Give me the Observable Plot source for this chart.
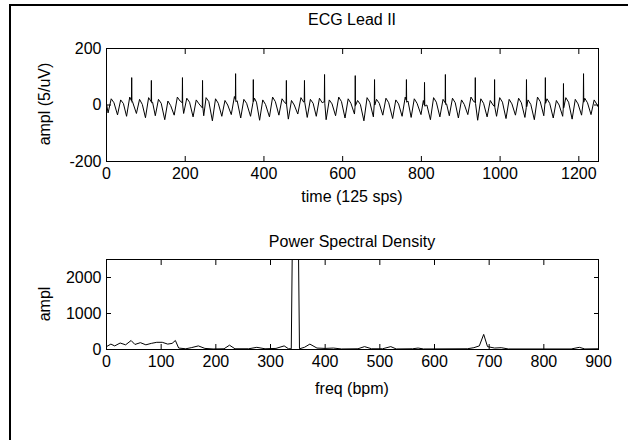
<!DOCTYPE html>
<html><head><meta charset="utf-8">
<script src="https://cdn.jsdelivr.net/npm/d3@7"></script>
<script src="https://cdn.jsdelivr.net/npm/@observablehq/plot@0.6"></script>
<style>
html,body{margin:0;padding:0;background:#fff;width:628px;height:440px;overflow:hidden;}
body{position:relative;font-family:"Liberation Sans",Arial,sans-serif;}
#frame{position:absolute;left:9px;top:4px;width:660px;height:480px;border:2px solid #000;box-sizing:border-box;}
.lbl{position:absolute;font-size:16px;color:#000;white-space:nowrap;transform:translate(-50%,-50%);line-height:1;}
.rot{transform:translate(-50%,-50%) rotate(-90deg);}
#p1,#p2{position:absolute;left:0;}
</style></head><body>
<div id="frame"></div>
<div id="p1" style="top:0"></div>
<div id="p2" style="top:200px"></div>
<div class="lbl" style="left:352px;top:20px">ECG Lead II</div>
<div class="lbl" style="left:352px;top:197px">time (125 sps)</div>
<div class="lbl" style="left:352px;top:242px">Power Spectral Density</div>
<div class="lbl" style="left:352px;top:389px">freq (bpm)</div>
<div class="lbl rot" style="left:45px;top:104px">ampl (5/uV)</div>
<div class="lbl rot" style="left:45px;top:304px">ampl</div>
<script>
// ECG waveform vertices (sample index, amplitude)
const ecgT = [0,4,12,19,28,36,43,51,59,66,76,84,91,99,107,117,124,132,139,148,156,163,172,180,187,196,204,211,220,228,235,247,253,260,269,277,284,293,301,308,317,325,332,341,349,356,366,376,381,389,397,404,414,422,429,438,446,453,462,470,477,486,494,501,510,518,525,533,541,548,558,566,573,582,590,597,606,614,621,630,638,645,654,662,669,678,686,693,702,710,717,727,735,742,751,759,766,774,782,789,799,805,814,823,831,838,847,855,864,871,879,886,894,902,909,918,926,933,943,951,958,967,975,982,991,999,1006,1015,1023,1030,1039,1047,1054,1063,1071,1078,1087,1095,1102,1111,1119,1126,1135,1143,1150,1159,1167,1174,1183,1191,1198,1207,1215,1222,1231,1239,1246,1249];
const ecgV = [5,-28,22,8,-35,18,5,-40,28,12,-30,20,2,-45,26,10,-38,20,6,-52,14,-2,-36,28,14,-30,24,10,-42,18,4,-38,26,12,-56,22,6,-40,16,0,-34,30,15,-46,20,6,-40,24,10,-54,18,2,-42,28,12,-36,22,8,-50,16,0,-32,26,10,-44,20,6,-40,24,8,-52,18,4,-38,28,12,-46,22,6,-32,16,2,-56,26,10,-42,20,6,-36,24,8,-48,18,4,-40,28,14,-44,22,6,-34,16,0,-52,26,10,-42,20,4,-38,24,8,-46,18,2,-34,28,12,-54,22,6,-42,16,0,-40,26,10,-48,20,4,-36,24,8,-44,18,2,-52,28,12,-38,22,6,-46,16,0,-40,26,10,-50,20,4,-36,24,8,-34,18,2,-6];
// narrow spikes (sample index, peak amplitude, base before, base after)
const spikeT = [64,114,193,244,328,373,457,503,554,632,681,762,808,861,937,986,1067,1115,1161,1212];
const spikeH = [97,87,97,87,111,90,87,87,108,104,90,90,80,108,97,90,90,97,76,111];
const spikePre = [15,12,8,-10,20,10,5,15,12,-8,5,18,0,8,10,-5,-10,12,-15,14];
const spikePost = [10,8,0,-5,12,12,0,10,6,-2,0,10,-4,2,5,-8,-6,6,-10,10];
// power spectral density vertices (bpm, ampl)
const psdF = [0,8,15,25,35,45,52,62,72,82,92,102,112,120,126,132,145,155,168,180,195,215,225,235,260,275,290,310,325,333,338,342,349,353,362,372,385,400,415,430,460,472,485,505,520,530,560,570,580,660,672,682,690,697,710,722,735,850,865,875,900];
const psdA = [80,150,100,180,130,250,140,190,130,170,200,200,150,170,250,40,20,50,100,30,15,20,120,20,20,60,20,30,100,20,20,6000,6000,20,60,150,40,30,40,15,20,80,20,20,80,15,20,40,15,20,50,100,420,80,40,50,15,15,60,15,20];
// axis ticks
const ecgXTicks = [0,200,400,600,800,1000,1200];
const ecgYTicks = [-200,0,200];
const psdXTicks = [0,100,200,300,400,500,600,700,800,900];
const psdYTicks = [0,1000,2000];

const ecg = ecgT.map((t, i) => ({t, v: ecgV[i]}));
spikeT.forEach((s, i) => {
  ecg.push({t: s - 0.6, v: spikePre[i]}, {t: s, v: spikeH[i]}, {t: s + 0.6, v: spikePost[i]});
});
ecg.sort((a, b) => a.t - b.t);
const psd = psdF.map((f, i) => ({f, a: psdA[i]}));

const fmt = d => String(d);
function panel({data, x, y, xDomain, yDomain, xTicks, yTicks, height, mt, mb}) {
  return Plot.plot({
    width: 628, height, marginLeft: 106, marginRight: 30, marginTop: mt, marginBottom: mb,
    style: {fontFamily: "Liberation Sans, Arial, sans-serif", fontSize: "16px", background: "transparent", color: "#000"},
    x: {domain: xDomain, label: null},
    y: {domain: yDomain, label: null},
    marks: [
      Plot.line(data, {x, y, stroke: "#000", strokeWidth: 1, clip: true}),
      Plot.frame({stroke: "#000"}),
      Plot.axisX(xTicks, {anchor: "bottom", tickSize: -5, tickPadding: 11, tickFormat: fmt, label: null}),
      Plot.axisX(xTicks, {anchor: "top", tickSize: -5, tickFormat: () => "", label: null}),
      Plot.axisY(yTicks, {anchor: "left", tickSize: -5, tickPadding: 10, tickFormat: fmt, label: null}),
      Plot.axisY(yTicks, {anchor: "right", tickSize: -5, tickFormat: () => "", label: null})
    ]
  });
}
document.getElementById("p1").append(panel({data: ecg, x: "t", y: "v", xDomain: [0, 1250], yDomain: [-200, 200], xTicks: ecgXTicks, yTicks: ecgYTicks, height: 200, mt: 48, mb: 39}));
document.getElementById("p2").append(panel({data: psd, x: "f", y: "a", xDomain: [0, 900], yDomain: [0, 2500], xTicks: psdXTicks, yTicks: psdYTicks, height: 200, mt: 59, mb: 51}));
</script>
</body></html>
